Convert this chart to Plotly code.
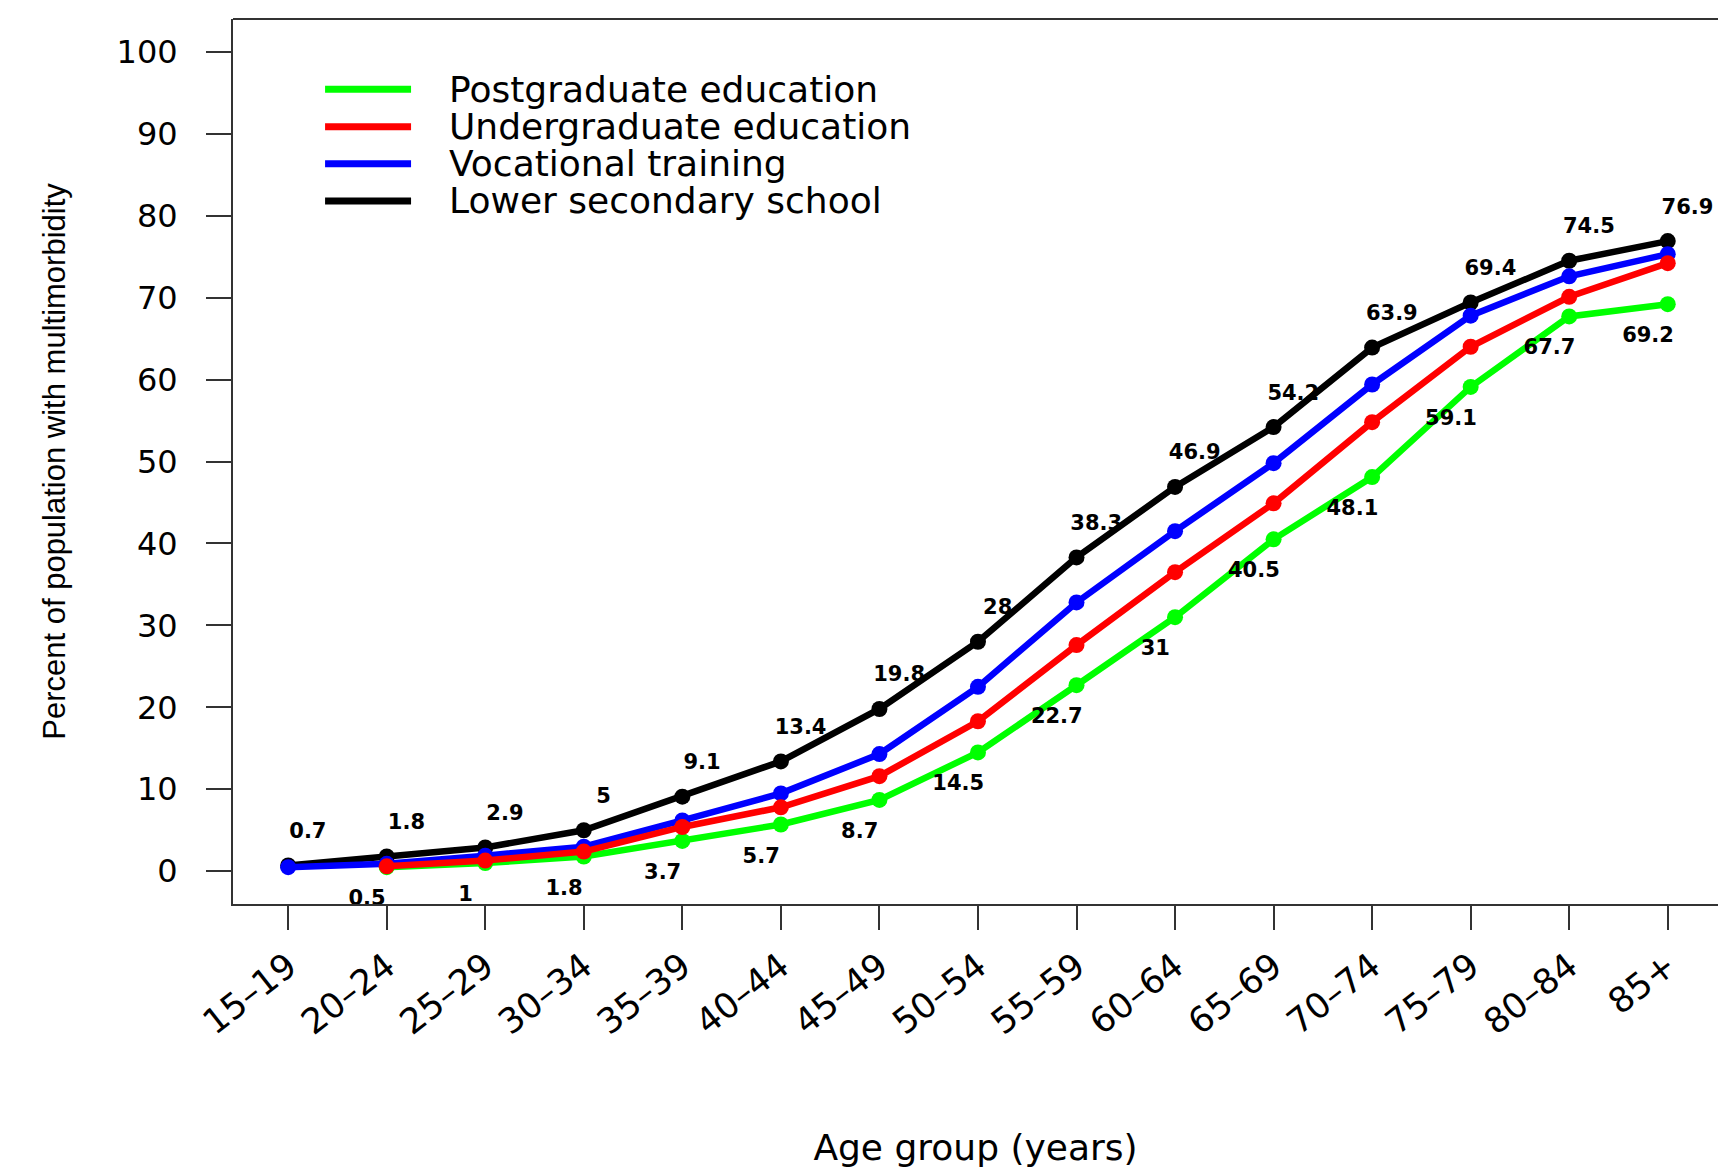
import plotly.graph_objects as go

age_groups = ["15–19", "20–24", "25–29", "30–34", "35–39", "40–44", "45–49", "50–54",
              "55–59", "60–64", "65–69", "70–74", "75–79", "80–84", "85+"]
postgrad = [None, 0.5, 1, 1.8, 3.7, 5.7, 8.7, 14.5, 22.7, 31, 40.5, 48.1, 59.1, 67.7, 69.2]
undergrad = [None, 0.6, 1.3, 2.4, 5.4, 7.8, 11.6, 18.3, 27.6, 36.5, 44.9, 54.8, 64.0, 70.1, 74.2]
vocational = [0.5, 0.9, 1.9, 3.0, 6.2, 9.5, 14.3, 22.5, 32.8, 41.5, 49.8, 59.4, 67.8, 72.6, 75.3]
lower_sec = [0.7, 1.8, 2.9, 5, 9.1, 13.4, 19.8, 28, 38.3, 46.9, 54.2, 63.9, 69.4, 74.5, 76.9]

names = ["Postgraduate education", "Undergraduate education", "Vocational training", "Lower secondary school"]
colors = ["#00FF00", "#FF0000", "#0000FF", "#000000"]
series = [postgrad, undergrad, vocational, lower_sec]

x_idx = list(range(len(age_groups)))

fig = go.Figure()

# drawing order: green, black, blue, red
for k in [0, 3, 2, 1]:
    fig.add_trace(go.Scatter(
        x=x_idx, y=series[k], mode="lines+markers", name=names[k],
        line=dict(color=colors[k], width=6.5),
        marker=dict(color=colors[k], size=16),
        showlegend=False, connectgaps=False,
    ))

label_font = dict(family="DejaVu Sans", size=21, color="black", weight="bold")
# labels above the lower secondary series
fig.add_trace(go.Scatter(
    x=[i + 0.2 for i in x_idx], y=[v + 4 for v in lower_sec],
    mode="text", text=[f"{v:g}" for v in lower_sec],
    textfont=label_font, showlegend=False, cliponaxis=True, hoverinfo="skip",
))
# labels below the postgraduate series
pg_x = [i - 0.2 for i, v in zip(x_idx, postgrad) if v is not None]
pg_y = [v - 4 for v in postgrad if v is not None]
pg_t = [f"{v:g}" for v in postgrad if v is not None]
fig.add_trace(go.Scatter(
    x=pg_x, y=pg_y, mode="text", text=pg_t,
    textfont=label_font, showlegend=False, cliponaxis=True, hoverinfo="skip",
))

# manual legend (R-style)
legend_y = [0.9206, 0.8782, 0.8365, 0.7944]
for name, col, ly in zip(names, colors, legend_y):
    fig.add_shape(type="line", xref="paper", yref="paper",
                  x0=0.062, x1=0.1199, y0=ly, y1=ly,
                  line=dict(color=col, width=7))
    fig.add_annotation(xref="paper", yref="paper", x=0.1444, y=ly,
                       text=name, showarrow=False, xanchor="left", yanchor="middle",
                       font=dict(family="DejaVu Sans", size=36, color="black"))

# top border of the box
fig.add_shape(type="line", xref="paper", yref="paper", x0=0, x1=1, y0=1, y1=1,
              line=dict(color="#333333", width=2))

fig.update_layout(
    width=1718, height=1168,
    margin=dict(l=233, r=0, t=19, b=264, autoexpand=False),
    paper_bgcolor="white", plot_bgcolor="white",
    font=dict(family="DejaVu Sans", color="black"),
    showlegend=False,
)
fig.update_xaxes(
    range=[-0.56, 14.51], tickmode="array", tickvals=x_idx, ticktext=age_groups,
    tickangle=-38, tickfont=dict(family="DejaVu Sans", size=35, color="black"),
    ticks="outside", ticklen=24, tickwidth=2, tickcolor="#333333",
    showline=True, linecolor="#333333", linewidth=2, showgrid=False, zeroline=False,
    ticklabelstandoff=2,
    title=dict(text="Age group (years)", standoff=95,
               font=dict(family="DejaVu Sans", size=36, color="black")),
)
fig.update_yaxes(
    range=[-4, 104], tickmode="array", tickvals=[0, 10, 20, 30, 40, 50, 60, 70, 80, 90, 100],
    tickfont=dict(family="DejaVu Sans", size=32, color="black"),
    ticks="outside", ticklen=25, tickwidth=2, tickcolor="#333333",
    showline=True, linecolor="#333333", linewidth=2, showgrid=False, zeroline=False,
    ticklabelstandoff=22,
    title=dict(text="Percent of population with multimorbidity", standoff=42,
               font=dict(family="Liberation Sans", size=31, color="black")),
)

fig.write_html("out.html", config={"displayModeBar": False},
               post_script="document.body.style.margin='0';document.body.style.overflow='hidden';")
